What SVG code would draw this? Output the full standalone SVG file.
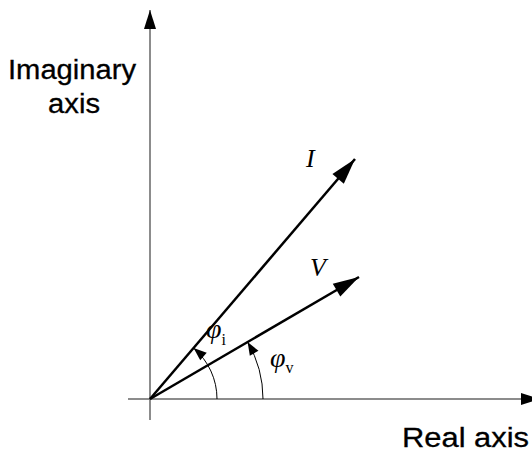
<svg xmlns="http://www.w3.org/2000/svg" width="532" height="455" viewBox="0 0 532 455">
<style>
.axis{stroke:#666;stroke-width:1.5;fill:none}
.vec{stroke:#000;stroke-width:2.5;fill:none}
.arc{stroke:#000;stroke-width:1;fill:none}
.lbl{font-family:"Liberation Sans",Arial,sans-serif;font-size:27px;fill:#000;stroke:#000;stroke-width:0.3}
.sym{font-family:"Liberation Serif","Times New Roman",serif;font-style:italic;fill:#000}
</style>
<defs>
<marker id="big" markerUnits="userSpaceOnUse" markerWidth="30" markerHeight="20" viewBox="-28 -10 30 20" refX="0" refY="0" orient="auto">
<path d="M0,0 L-26,-7.5 L-26,7.5 Z" fill="#000"/>
</marker>
<marker id="ax" markerUnits="userSpaceOnUse" markerWidth="24" markerHeight="16" viewBox="-22 -8 24 16" refX="0" refY="0" orient="auto">
<path d="M0,0 L-19,-6 L-19,6 Z" fill="#000"/>
</marker>
<marker id="small" markerUnits="userSpaceOnUse" markerWidth="16" markerHeight="12" viewBox="-14 -6 16 12" refX="0" refY="0" orient="auto">
<path d="M0,0 L-13,-5 L-13,5 Z" fill="#000"/>
</marker>
</defs>
<g id="connectors">
<line id="imag-axis" class="axis" x1="150" y1="420" x2="150" y2="10" marker-end="url(#ax)"/>
<line id="real-axis" class="axis" x1="128" y1="399" x2="540" y2="399" marker-end="url(#ax)"/>
<line id="vec-I" class="vec" x1="150" y1="399" x2="355" y2="159" marker-end="url(#big)"/>
<line id="vec-V" class="vec" x1="150" y1="399" x2="359" y2="277" marker-end="url(#big)"/>
<path id="arc-i" class="arc" d="M217,399 A67,67 0 0 0 193.6,348.1" marker-end="url(#small)"/>
<path id="arc-v" class="arc" d="M263,399 A113,113 0 0 0 247.6,342" marker-end="url(#small)"/>
</g>
<g id="label-imag"><text class="lbl" x="8" y="79" textLength="128" lengthAdjust="spacingAndGlyphs">Imaginary</text><text class="lbl" x="48" y="113" textLength="52" lengthAdjust="spacingAndGlyphs">axis</text></g>
<g id="label-real"><text class="lbl" x="402" y="447" textLength="127" lengthAdjust="spacingAndGlyphs">Real axis</text></g>
<g id="label-I"><text class="sym" x="306" y="167" font-size="26">I</text></g>
<g id="label-V"><text class="sym" x="310" y="276" font-size="26">V</text></g>
<g id="label-phi-i"><text class="sym" x="206" y="338" font-size="28">φ<tspan font-style="normal" font-size="16" dy="7">i</tspan></text></g>
<g id="label-phi-v"><text class="sym" x="270" y="367" font-size="28">φ<tspan font-style="normal" font-size="16" dy="6">v</tspan></text></g>
</svg>
